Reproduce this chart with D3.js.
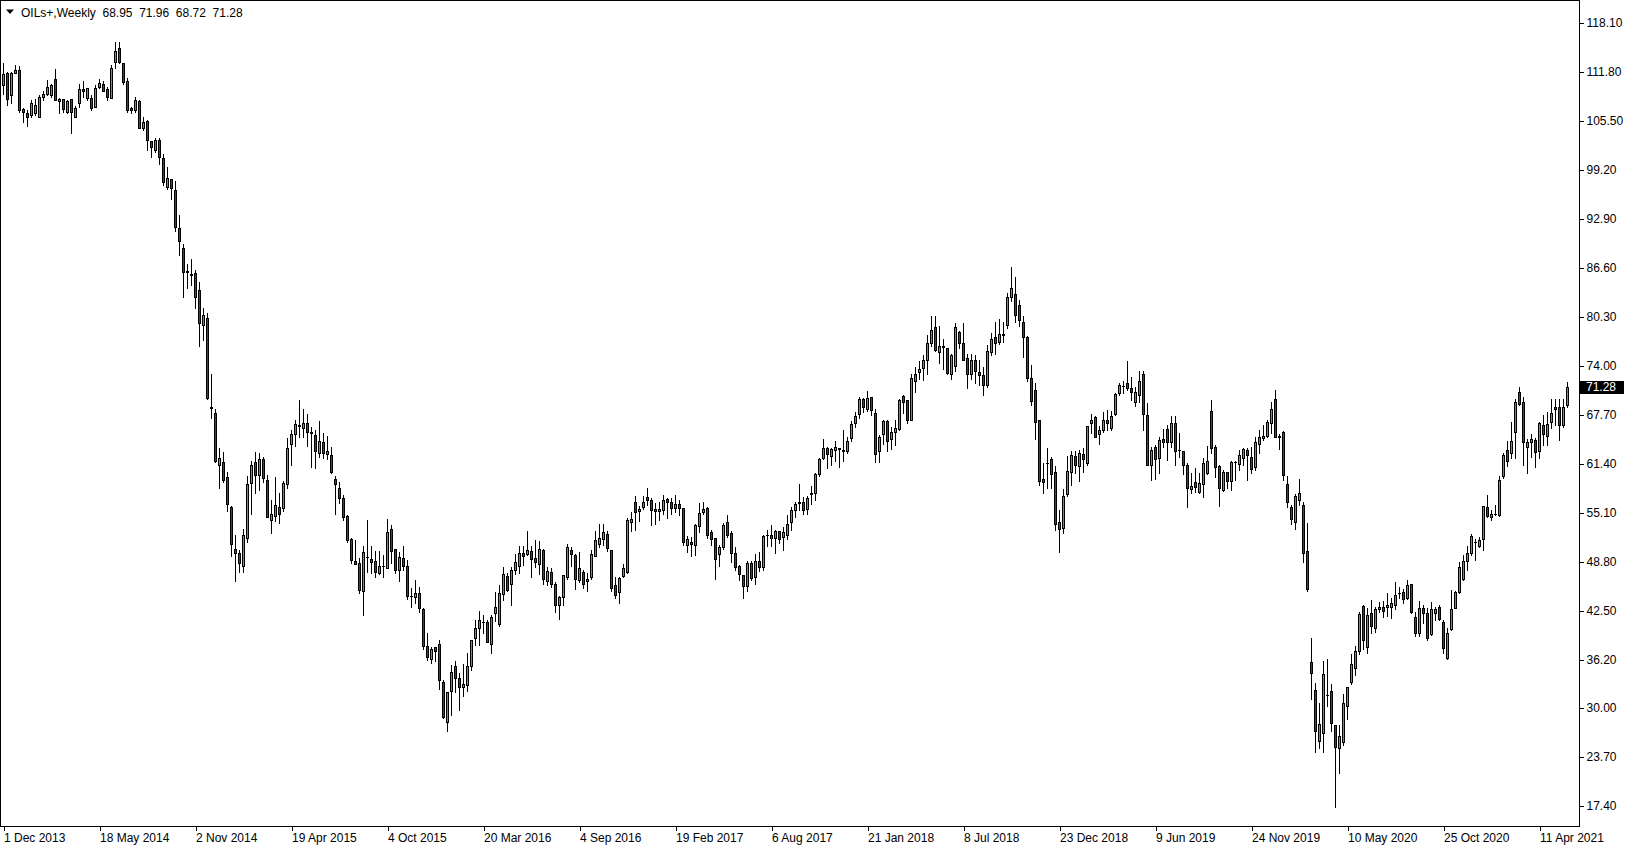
<!DOCTYPE html>
<html><head><meta charset="utf-8">
<script src="https://cdn.jsdelivr.net/npm/d3@7"></script>
<style>
html,body{margin:0;padding:0;background:#fff;overflow:hidden;}
svg text{font-family:"Liberation Sans",Arial,sans-serif;font-size:12px;fill:#000;}
</style></head><body>
<svg id="c" width="1629" height="850"></svg>
<script>
const symbolTitle = "OILs+,Weekly";
const lastBar = ["68.95","71.96","68.72","71.28"];
const xTickIdx = [0,24,48,72,96,120,144,168,192,216,240,264,288,312,336,360,384];
const xTickLabels = ["1 Dec 2013","18 May 2014","2 Nov 2014","19 Apr 2015","4 Oct 2015","20 Mar 2016","4 Sep 2016","19 Feb 2017","6 Aug 2017","21 Jan 2018","8 Jul 2018","23 Dec 2018","9 Jun 2019","24 Nov 2019","10 May 2020","25 Oct 2020","11 Apr 2021"];
const yTicks = [118.10,111.80,105.50,99.20,92.90,86.60,80.30,74.00,67.70,61.40,55.10,48.80,42.50,36.20,30.00,23.70,17.40];

const opens = [
110.1,111.7,108.8,111.7,112.1,107.0,106.5,106.3,106.5,106.0,
108.6,109.0,108.8,110.9,108.1,108.3,106.7,108.3,106.0,107.8,
109.6,108.4,108.4,107.3,109.8,110.3,109.6,108.5,113.1,114.9,
113.0,110.6,107.2,106.9,108.1,104.6,105.5,102.9,101.7,103.0,
100.7,97.0,98.0,96.6,91.7,89.2,86.2,85.8,85.9,83.8,
79.2,80.2,68.7,67.9,61.3,61.6,59.7,55.8,50.5,49.9,
48.2,51.8,58.9,61.6,59.9,62.0,59.3,54.2,54.7,55.9,
55.7,58.8,64.0,65.2,66.3,66.0,66.7,65.5,65.1,62.8,
64.2,62.7,62.5,59.5,58.3,57.0,54.7,51.7,48.9,48.6,
45.1,49.4,49.1,48.9,47.4,48.2,48.0,53.0,50.4,47.7,
49.3,48.2,44.4,44.3,44.8,42.7,38.0,36.3,37.8,38.2,
33.3,28.2,32.2,35.4,33.8,32.7,32.9,35.4,39.0,40.3,
41.0,41.0,38.2,42.2,40.8,44.6,47.0,46.0,47.7,48.3,
49.9,49.8,50.2,49.3,48.5,50.3,46.3,47.5,46.0,43.2,
44.3,46.9,50.3,49.7,46.4,47.5,46.3,46.8,49.6,51.1,
51.7,52.4,50.3,45.8,44.9,47.0,47.5,53.9,56.5,55.3,
55.8,57.1,56.8,55.6,55.3,55.4,56.9,56.5,55.7,56.2,
55.7,50.9,51.4,50.9,53.4,55.2,55.7,52.6,51.8,49.8,
50.7,53.9,52.5,49.9,48.2,47.1,45.7,48.7,46.8,48.9,
48.1,52.2,52.25,51.9,52.7,52.0,52.3,53.9,55.4,56.3,
56.5,55.6,57.5,57.6,60.1,62.1,63.5,62.4,63.2,63.35,
63.1,63.1,64.7,66.6,67.8,69.7,68.5,70.0,67.9,63.0,
65.2,66.9,64.6,65.5,65.9,70.1,69.6,67.1,72.1,73.2,
73.7,74.8,77.0,79.0,75.8,76.5,76.3,73.0,74.0,78.3,
76.9,75.0,73.0,74.7,73.2,72.8,71.6,75.8,77.7,77.1,
78.0,79.2,82.9,83.3,81.8,79.7,77.7,72.4,70.9,67.1,
59.5,61.5,62.0,60.3,53.9,53.2,57.5,60.4,62.4,61.1,
62.7,61.5,66.6,67.4,65.2,65.8,67.0,66.0,67.8,70.5,
71.4,71.8,71.1,69.3,70.3,72.9,67.7,61.3,63.6,62.1,
64.6,65.9,64.2,66.6,63.2,63.1,61.3,58.1,59.0,57.8,
58.8,60.2,68.2,63.6,61.1,58.0,60.4,59.2,61.6,61.4,
62.1,63.2,62.3,61.0,63.9,64.7,65.0,66.7,69.7,64.9,
65.5,58.8,55.8,53.9,56.8,56.1,50.2,35.9,32.3,25.7,
26.8,31.7,32.2,27.8,24.8,25.6,30.3,33.3,35.1,37.3,
43.1,37.8,42.2,40.3,42.7,43.0,42.95,43.0,43.2,44.75,
44.9,44.1,45.9,41.7,39.7,42.8,42.2,39.5,42.2,43.0,
41.1,36.4,40.1,42.9,44.9,46.6,48.9,49.9,51.3,50.8,
51.7,55.8,54.6,54.95,54.8,59.8,63.2,62.8,65.5,70.7,
69.3,63.6,64.25,64.5,63.1,66.4,65.0,66.8,68.75,68.7,
66.4,68.95];

const highs = [
112.9,111.8,111.8,112.7,112.5,107.1,106.9,108.2,108.3,108.8,
109.3,110.8,110.3,112.2,108.4,108.3,108.2,108.3,107.4,110.3,
110.6,109.7,108.8,110.1,110.9,110.6,109.8,112.7,115.6,115.6,
113.0,111.0,107.3,108.6,108.2,106.0,105.6,102.9,103.3,103.3,
101.3,99.6,98.0,97.8,93.4,89.7,87.1,87.8,86.3,84.8,
81.5,80.8,73.0,68.4,63.5,62.9,60.3,56.0,52.3,50.3,
53.0,59.8,61.7,62.9,62.8,62.3,60.0,56.8,59.7,57.6,
59.2,64.7,65.8,67.0,69.6,68.4,67.8,66.2,65.8,66.9,
65.4,65.0,63.6,59.8,59.1,57.4,54.8,51.8,51.6,49.3,
50.8,54.2,50.8,50.2,50.2,49.7,54.3,53.5,50.4,50.0,
50.8,49.0,45.4,46.5,45.6,42.8,39.6,37.9,37.9,38.8,
33.6,32.1,35.5,36.0,34.5,35.6,37.1,38.8,41.3,42.5,
42.0,41.3,42.0,44.9,45.8,48.1,47.4,48.1,49.8,50.8,
50.8,52.8,50.8,51.6,51.5,50.5,48.1,48.0,46.2,44.4,
47.1,51.1,50.7,49.8,50.1,47.8,47.3,50.3,52.8,53.7,
53.7,52.8,50.3,46.8,46.8,48.5,54.4,55.2,57.2,56.0,
57.3,58.3,57.0,56.3,56.5,57.4,57.0,57.0,57.4,56.8,
55.7,52.1,52.0,53.7,56.4,56.5,55.9,52.9,51.8,51.0,
53.8,54.8,52.8,50.7,48.4,47.1,48.9,48.9,49.8,50.0,
52.3,52.9,53.5,52.9,52.8,53.3,54.8,55.9,56.5,58.8,
57.1,57.2,58.5,60.2,62.2,64.6,63.6,63.5,64.3,63.5,
65.8,64.8,66.9,68.1,70.0,69.9,70.8,70.0,68.5,65.1,
67.0,67.0,66.2,67.0,69.8,70.3,69.6,73.0,73.9,74.6,
75.4,78.0,80.4,80.4,79.1,77.5,76.3,75.5,79.5,78.5,
79.5,75.5,75.5,75.4,74.8,73.8,76.7,78.2,79.7,80.0,
79.7,83.4,86.7,85.4,82.5,80.4,77.9,74.1,71.8,67.1,
61.5,63.5,62.3,61.1,55.5,58.1,62.4,63.0,63.0,63.2,
63.5,66.3,67.8,67.6,66.3,68.1,68.3,68.2,70.5,71.8,
72.0,74.6,72.6,71.3,73.3,73.3,69.2,63.6,63.8,64.8,
65.9,66.4,67.6,67.5,65.4,63.1,61.5,60.2,60.8,60.2,
62.2,63.7,69.6,63.8,61.3,60.6,60.4,61.8,61.8,63.2,
63.5,63.4,63.6,64.8,65.8,66.4,67.0,69.4,70.9,65.3,
65.6,59.8,56.1,57.5,59.5,56.5,53.8,39.0,33.2,30.7,
36.0,36.3,33.1,27.8,27.8,31.8,32.7,37.0,38.0,42.4,
43.3,42.9,43.9,43.0,43.6,43.7,44.8,44.2,46.2,45.6,
45.3,46.5,46.0,42.4,43.8,43.3,42.8,43.6,43.0,43.3,
41.3,40.3,45.2,45.1,48.8,49.7,50.8,52.4,51.7,52.0,
56.0,57.4,55.5,56.1,59.8,62.8,64.3,66.8,69.8,71.3,
70.0,64.6,65.2,64.7,66.8,67.7,68.1,69.8,69.8,69.8,
69.7,71.96];

const lows = [
109.0,107.6,107.8,111.6,106.7,105.4,104.8,106.0,106.3,106.0,
108.2,108.8,108.6,108.2,106.5,106.7,106.5,103.9,106.0,107.3,
108.6,108.2,106.9,107.3,109.7,109.3,108.2,108.4,112.3,112.9,
110.3,106.7,106.5,106.7,104.6,104.3,101.8,100.9,101.5,100.0,
97.3,96.8,95.5,91.4,88.3,82.8,84.0,84.4,81.5,76.6,
77.3,69.7,67.3,61.6,58.3,59.1,55.3,49.5,46.3,47.5,
47.5,51.3,55.0,57.7,58.0,59.0,54.6,52.5,54.0,53.8,
55.3,58.3,61.3,63.7,64.9,64.9,63.7,61.0,60.8,62.3,
62.2,62.0,60.2,55.0,56.3,54.2,51.4,48.7,48.5,44.8,
42.0,47.5,47.3,46.9,47.2,46.8,48.0,48.6,47.3,46.3,
47.8,44.0,43.0,43.5,42.3,37.6,36.2,35.8,36.1,32.4,
28.7,27.0,29.1,32.1,29.7,31.6,32.2,34.9,38.1,38.1,
39.7,38.5,37.1,41.2,40.5,43.9,45.0,43.3,47.2,47.4,
48.4,49.7,46.8,48.1,47.2,46.0,45.8,45.6,42.4,41.4,
43.3,46.6,48.3,45.3,46.2,45.4,45.0,46.6,49.6,50.7,
50.9,50.2,45.0,44.1,43.5,46.8,47.3,52.7,52.9,54.1,
55.6,56.1,53.5,53.7,54.2,55.0,54.4,55.0,55.2,54.8,
51.0,50.1,49.6,49.7,52.6,55.0,51.9,51.0,46.6,48.2,
50.5,52.0,48.8,47.8,46.5,44.2,45.1,46.5,46.0,47.6,
47.8,50.8,50.8,49.9,51.2,50.3,51.7,52.9,54.6,55.5,
54.9,55.0,56.2,56.8,59.8,62.0,60.9,61.3,61.8,61.0,
61.8,62.8,64.4,66.1,67.3,68.1,68.2,67.7,61.6,61.6,
64.0,63.1,63.3,63.8,65.8,67.9,66.6,67.0,70.7,72.3,
72.2,73.0,76.5,75.9,74.4,73.6,73.0,72.3,73.4,76.3,
74.7,71.1,72.3,71.8,71.6,70.2,71.3,75.4,75.5,76.8,
77.1,78.9,82.4,79.7,79.1,75.1,72.0,69.0,64.6,58.7,
57.7,58.3,58.3,52.9,50.1,52.5,57.2,58.7,60.2,59.2,
60.4,61.3,65.4,64.8,63.9,65.5,65.8,65.8,67.7,70.3,
70.5,70.9,69.6,68.8,69.4,65.8,61.3,59.3,59.4,60.2,
63.6,61.9,63.6,61.3,62.3,60.1,55.8,57.7,57.8,57.7,
57.1,60.1,62.8,59.7,56.0,57.9,58.3,58.0,59.3,60.6,
61.3,59.3,60.2,60.6,62.8,64.5,64.8,65.4,64.8,63.3,
59.3,55.8,53.7,53.0,56.1,48.8,45.1,31.1,24.4,24.9,
24.4,30.2,27.0,17.3,21.7,25.3,28.6,33.1,34.2,37.0,
37.6,37.1,39.6,39.8,42.3,41.7,41.8,41.6,42.7,44.2,
43.5,44.0,42.2,39.2,39.2,40.9,38.8,39.4,41.3,41.3,
37.1,36.3,40.0,42.8,44.8,46.5,47.8,49.7,49.0,50.7,
50.3,54.5,54.2,54.8,54.7,59.6,61.1,62.2,62.2,69.0,
61.3,60.2,62.3,61.0,62.1,63.8,63.8,66.0,66.4,64.5,
66.2,68.72];

const closes = [
111.5,108.3,111.6,112.0,106.9,106.6,106.0,107.8,107.6,108.6,
109.0,109.8,110.1,108.2,108.3,107.0,108.0,106.6,107.2,109.6,
109.3,109.7,107.2,109.7,110.4,109.4,108.6,112.3,114.5,113.1,
110.5,106.9,106.9,108.2,104.6,105.3,103.1,102.2,103.0,100.8,
97.6,98.2,96.9,91.9,90.1,86.1,86.1,85.7,82.9,79.5,
80.5,69.9,68.6,61.8,62.1,59.3,56.2,51.1,49.9,48.6,
52.3,58.8,61.3,60.0,62.0,59.6,54.6,55.0,56.1,55.0,
58.9,63.5,65.2,66.5,66.4,66.7,65.5,65.4,63.1,64.4,
62.8,63.1,60.4,58.8,57.0,54.6,51.6,49.0,48.5,45.2,
50.0,49.45,48.8,47.5,48.3,48.25,52.6,50.2,47.8,49.4,
48.2,44.4,44.35,44.8,42.9,38.0,36.5,37.6,37.3,33.6,
28.9,32.0,34.6,33.9,32.7,33.1,35.4,38.8,40.3,41.3,
41.05,38.5,41.7,43.0,44.8,47.2,45.2,47.8,48.8,49.9,
49.6,50.3,49.1,48.8,50.5,46.6,47.6,46.0,43.3,44.3,
47.1,50.7,49.8,46.6,48.0,45.9,46.6,49.8,51.6,51.8,
52.6,50.6,45.4,44.5,46.7,48.0,54.2,54.3,55.2,55.6,
56.5,56.7,55.4,55.3,55.6,56.7,56.5,55.7,56.2,55.7,
51.3,51.7,51.05,53.5,55.1,55.6,52.3,51.7,49.1,50.7,
53.5,52.3,49.9,48.1,47.2,45.7,48.7,46.7,48.9,48.1,
52.1,52.25,51.9,52.8,51.7,52.6,53.6,55.5,56.2,56.45,
55.4,57.0,57.6,60.1,62.0,63.5,62.6,63.3,63.6,63.4,
63.15,64.4,66.5,67.6,69.7,68.7,69.9,68.3,62.6,64.9,
66.9,64.4,65.5,66.0,69.6,69.3,67.0,72.4,73.0,73.6,
74.8,76.9,78.6,76.1,76.6,76.45,73.1,75.4,79.0,77.0,
74.8,72.9,74.7,73.3,72.8,71.6,75.9,77.5,76.9,78.1,
78.1,82.8,84.0,80.5,79.9,77.7,72.5,69.5,66.8,59.2,
59.0,61.45,60.1,53.6,53.0,57.3,60.5,62.5,61.3,62.8,
62.0,66.3,67.0,64.8,65.8,67.0,66.6,67.6,70.4,71.5,
71.45,71.1,70.6,70.6,72.1,67.8,61.3,63.2,62.0,64.5,
64.2,64.2,66.7,63.0,63.15,61.2,58.3,58.6,58.4,58.9,
61.5,61.8,63.5,61.0,58.3,60.3,59.2,61.6,61.65,62.5,
63.3,62.5,60.7,64.2,64.8,65.0,66.8,68.4,64.9,64.95,
59.9,56.5,54.3,57.3,57.6,49.9,45.3,34.5,27.1,28.0,
34.4,31.65,28.1,25.0,26.4,30.7,32.7,35.6,37.3,42.1,
38.7,42.0,40.5,42.7,43.0,42.5,43.25,43.5,44.5,44.8,
44.0,45.8,42.3,39.7,42.8,42.2,39.0,42.7,42.7,41.5,
37.7,39.6,42.7,44.9,48.1,48.9,49.9,52.1,51.35,51.6,
56.0,54.7,55.0,55.0,59.3,62.5,61.8,64.3,69.4,69.1,
64.2,64.2,64.55,62.9,66.7,65.3,66.5,68.0,68.5,66.4,
68.75,71.28];

const bullColor = "#00e000", bearColor = "#e60000";
const plotRight = 1579.5, plotBottom = 826.5;

const svg = d3.select("#c");
svg.append("rect").attr("width",1629).attr("height",850).attr("fill","#fff");

const n = closes.length;
const x = d3.scaleLinear().domain([0, n - 1]).range([3, 3 + 4 * (n - 1)]);
const y = d3.scaleLinear().domain([17.4, 118.1]).range([806, 22.9]);

// plot frame
svg.append("path")
  .attr("d", `M0.5,0.5H${plotRight}V${plotBottom}H0.5Z`)
  .attr("fill","none").attr("stroke","#000").attr("shape-rendering","crispEdges");

// right axis
const yAxis = d3.axisRight(y).tickValues(yTicks).tickSize(4).tickPadding(3)
  .tickFormat(d => d.toFixed(2));
const gy = svg.append("g").attr("transform", `translate(${plotRight},0)`).call(yAxis);
gy.select(".domain").remove();
gy.selectAll(".tick line").attr("shape-rendering","crispEdges");
gy.selectAll("text").attr("font-family","Liberation Sans, Arial, sans-serif").attr("font-size",12).attr("fill","#000");

// bottom axis
const xAxis = d3.axisBottom(x).tickValues(xTickIdx).tickSize(4).tickPadding(3)
  .tickFormat((d, i) => xTickLabels[i]);
const gx = svg.append("g").attr("transform", `translate(0.5,${plotBottom})`).call(xAxis);
gx.select(".domain").remove();
gx.selectAll(".tick line").attr("shape-rendering","crispEdges");
gx.selectAll("text").attr("text-anchor","start").attr("x",0)
  .attr("font-family","Liberation Sans, Arial, sans-serif").attr("font-size",12).attr("fill","#000");

// candles
const data = closes.map((c, i) => ({ i, o: opens[i], h: highs[i], l: lows[i], c }));
const g = svg.append("g").attr("shape-rendering","crispEdges");
const cg = g.selectAll("g.c").data(data).join("g").attr("class","c");
cg.append("rect")
  .attr("x", d => Math.round(x(d.i)))
  .attr("y", d => Math.round(y(d.h)))
  .attr("width", 1)
  .attr("height", d => Math.max(1, Math.round(y(d.l)) - Math.round(y(d.h)) + 1))
  .attr("fill", "#000");
cg.append("rect")
  .attr("x", d => Math.round(x(d.i)) - 1)
  .attr("y", d => Math.round(y(Math.max(d.o, d.c))))
  .attr("width", 3)
  .attr("height", d => Math.max(1, Math.round(y(Math.min(d.o, d.c))) - Math.round(y(Math.max(d.o, d.c))) + 1))
  .attr("fill", "#000");
cg.filter(d => Math.round(y(Math.min(d.o, d.c))) - Math.round(y(Math.max(d.o, d.c))) >= 2)
  .append("rect")
  .attr("x", d => Math.round(x(d.i)))
  .attr("y", d => Math.round(y(Math.max(d.o, d.c))) + 1)
  .attr("width", 1)
  .attr("height", d => Math.round(y(Math.min(d.o, d.c))) - Math.round(y(Math.max(d.o, d.c))) - 1)
  .attr("fill", d => d.c >= d.o ? bullColor : bearColor);

// current price label
const lastClose = closes[n - 1];
const ly = Math.round(y(lastClose));
svg.append("rect").attr("x", 1580).attr("y", ly - 6).attr("width", 44).attr("height", 13).attr("fill", "#000");
svg.append("text").attr("x", 1586).attr("y", ly).attr("dy", "0.35em").style("fill", "#fff")
  .text(lastClose.toFixed(2));

// title
svg.append("path").attr("d", "M6,9.5L14,9.5L10,14Z").attr("fill", "#000");
svg.append("text").attr("x", 21).attr("y", 17).style("white-space", "pre")
  .text(symbolTitle + "  " + lastBar.join("  "));
</script>
</body></html>
